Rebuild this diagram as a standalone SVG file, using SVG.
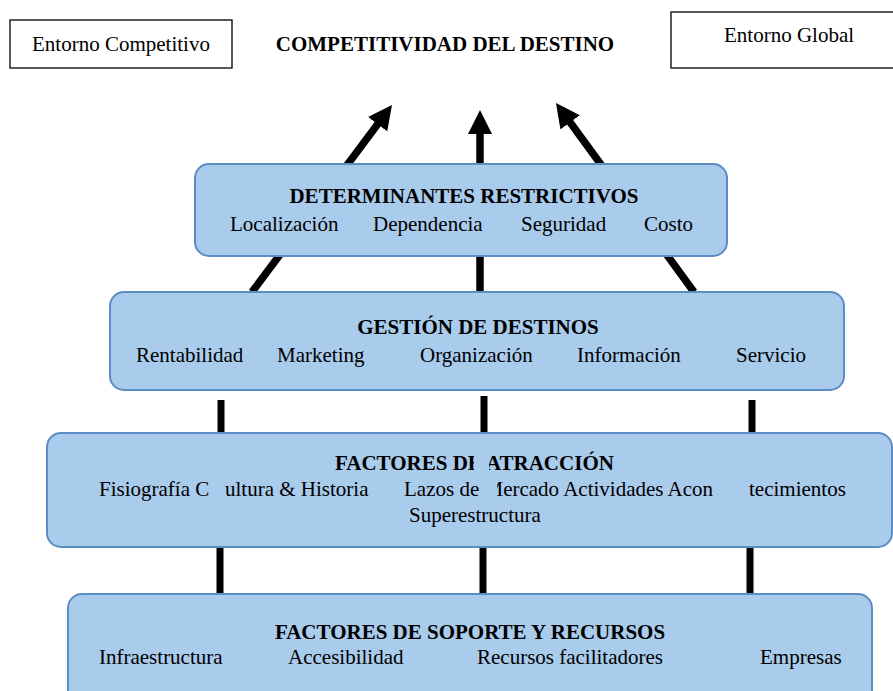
<svg xmlns="http://www.w3.org/2000/svg" width="893" height="691" viewBox="0 0 893 691">
<style>
text{font-family:"Liberation Serif","Times New Roman",serif;font-size:21px;fill:#000}
.b{font-weight:bold}
.m{text-anchor:middle}
.plain{fill:#fff;stroke:#000;stroke-width:1.3}
.box{fill:#a9cbec;stroke:#5b8cc2;stroke-width:2}
.arrow{stroke:#000;stroke-width:7.5;fill:none}
.vline{stroke:#000;stroke-width:7;fill:none}
.mask{fill:#a9cbec}
</style>
<defs>
<marker id="ah" viewBox="0 0 24 24" markerWidth="24" markerHeight="24" markerUnits="userSpaceOnUse" refX="6" refY="12" orient="auto">
<path d="M0,0 L24,12 L0,24 z" fill="#000"/>
</marker>
</defs>
<g id="connectors">
<line class="arrow" x1="252" y1="292" x2="381.2" y2="119.4" marker-end="url(#ah)"/>
<line class="arrow" x1="480" y1="292" x2="480" y2="128" marker-end="url(#ah)"/>
<line class="arrow" x1="694" y1="292" x2="566.6" y2="117.5" marker-end="url(#ah)"/>
<line class="vline" x1="221" y1="400" x2="221" y2="434"/>
<line class="vline" x1="484" y1="396" x2="484" y2="434"/>
<line class="vline" x1="752" y1="400" x2="752" y2="434"/>
<line class="vline" x1="220" y1="546" x2="220" y2="595"/>
<line class="vline" x1="483" y1="546" x2="483" y2="595"/>
<line class="vline" x1="750" y1="546" x2="750" y2="595"/>
</g>
<g id="entorno-competitivo">
<rect class="plain" x="10" y="20" width="222" height="48"/>
<text class="m" x="121" y="51">Entorno Competitivo</text>
</g>
<g id="competitividad">
<text class="b m" x="445" y="51">COMPETITIVIDAD DEL DESTINO</text>
</g>
<g id="entorno-global">
<rect class="plain" x="671" y="12" width="240" height="56"/>
<text x="724" y="42">Entorno Global</text>
</g>
<g id="determinantes">
<rect class="box" x="195" y="164" width="532" height="92" rx="14"/>
<text class="b m" x="464" y="203">DETERMINANTES RESTRICTIVOS</text>
<text x="230" y="231">Localización</text>
<text x="373" y="231">Dependencia</text>
<text x="521" y="231">Seguridad</text>
<text x="644" y="231">Costo</text>
</g>
<g id="gestion">
<rect class="box" x="110" y="292" width="734" height="98" rx="14"/>
<text class="b m" x="478" y="334">GESTIÓN DE DESTINOS</text>
<text x="136" y="362">Rentabilidad</text>
<text x="277" y="362">Marketing</text>
<text x="420" y="362">Organización</text>
<text x="577" y="362">Información</text>
<text x="736" y="362">Servicio</text>
</g>
<g id="atraccion">
<rect class="box" x="47" y="433" width="845" height="114" rx="14"/>
<text class="b" x="335" y="470">FACTORES DE ATRACCIÓN</text>
<text x="99" y="496">Fisiografía C</text>
<text x="225" y="496">ultura &amp; Historia</text>
<text x="404" y="496">Lazos de Mercado Actividades Acon</text>
<text x="749" y="496">tecimientos</text>
<text x="409" y="522">Superestructura</text>
<rect class="mask" x="474" y="450" width="15" height="26"/>
<rect class="mask" x="479" y="478" width="18" height="24"/>
</g>
<g id="soporte">
<rect class="box" x="68" y="594" width="804" height="112" rx="14"/>
<text class="b m" x="470" y="639">FACTORES DE SOPORTE Y RECURSOS</text>
<text x="99" y="664">Infraestructura</text>
<text x="288" y="664">Accesibilidad</text>
<text x="477" y="664">Recursos facilitadores</text>
<text x="760" y="664">Empresas</text>
</g>
</svg>
